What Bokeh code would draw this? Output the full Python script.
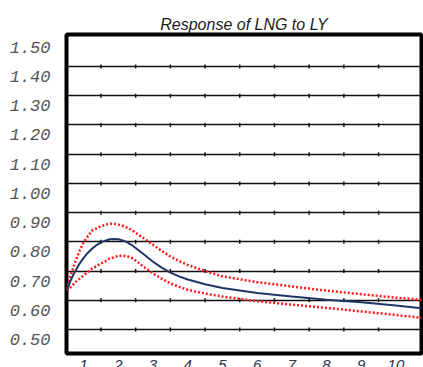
from bokeh.plotting import figure
from bokeh.models import FixedTicker, Title
from bokeh.embed import file_html
from bokeh.resources import INLINE

# ---- data ----
horizon = [0.52, 0.625, 0.75, 0.875, 1.0, 1.125, 1.25, 1.375, 1.5, 1.625, 1.75, 1.875,
           2.0, 2.125, 2.25, 2.375, 2.5, 2.75, 3.0, 3.25, 3.5, 3.75, 4.0, 4.5,
           5.0, 6.0, 7.0, 8.0, 9.0, 10.0, 10.74]
response = [0.633, 0.668, 0.698, 0.724, 0.745, 0.763, 0.777, 0.789, 0.798, 0.804, 0.809, 0.810,
            0.809, 0.805, 0.799, 0.790, 0.779, 0.756, 0.732, 0.712, 0.695, 0.682, 0.671, 0.655,
            0.642, 0.625, 0.613, 0.602, 0.593, 0.582, 0.573]
upper = [0.637, 0.685, 0.729, 0.767, 0.798, 0.820, 0.839, 0.846, 0.854, 0.858, 0.862, 0.862,
         0.859, 0.855, 0.849, 0.841, 0.831, 0.811, 0.790, 0.769, 0.750, 0.734, 0.721, 0.700,
         0.682, 0.662, 0.647, 0.633, 0.621, 0.609, 0.602]
lower = [0.633, 0.644, 0.661, 0.673, 0.685, 0.697, 0.709, 0.717, 0.726, 0.733, 0.743, 0.747,
         0.752, 0.753, 0.751, 0.746, 0.736, 0.713, 0.692, 0.674, 0.658, 0.646, 0.636, 0.623,
         0.613, 0.597, 0.585, 0.574, 0.562, 0.550, 0.540]

grid_values = [0.50, 0.60, 0.70, 0.80, 0.90, 1.00, 1.10, 1.20, 1.30, 1.40]
y_label_values = [0.50, 0.60, 0.70, 0.80, 0.90, 1.00, 1.10, 1.20, 1.30, 1.40, 1.50]
y_labels = ["0.50", "0.60", "0.70", "0.80", "0.90", "1.00", "1.10", "1.20", "1.30", "1.40", "1.50"]
periods = [1, 2, 3, 4, 5, 6, 7, 8, 9, 10]
period_bounds = [1.5, 2.5, 3.5, 4.5, 5.5, 6.5, 7.5, 8.5, 9.5]
title_text = "Response of LNG to LY"

label_shift = 0.034  # labels sit a little below their grid lines in the original

p = figure(width=431, height=383, x_range=(0.507, 10.737), y_range=(0.418, 1.5095),
           output_backend="svg", toolbar_location=None,
           min_border_left=66, min_border_right=10, min_border_top=34, min_border_bottom=30,
           background_fill_color="white", border_fill_color="white")

p.add_layout(Title(text=title_text, align="center", text_font="Liberation Sans",
                   text_font_style="italic", text_font_size="16px", text_color="#1a1a1a",
                   standoff=3, offset=0), "above")

p.outline_line_color = "black"
p.outline_line_width = 4

# grid
p.xgrid.grid_line_color = None
p.ygrid.ticker = FixedTicker(ticks=grid_values)
p.ygrid.grid_line_color = "#111111"
p.ygrid.grid_line_width = 1.5

# y axis labels (shifted)
ypos = [v - label_shift for v in y_label_values]
p.yaxis.ticker = FixedTicker(ticks=ypos)
p.yaxis.major_label_overrides = {pos: lab for pos, lab in zip(ypos, y_labels)}
p.yaxis.major_label_text_font = "Liberation Mono"
p.yaxis.major_label_text_font_style = "italic"
p.yaxis.major_label_text_font_size = "17px"
p.yaxis.major_label_text_color = "#555555"
p.yaxis.major_label_standoff = 10

# x axis labels
p.xaxis.ticker = FixedTicker(ticks=periods)
p.xaxis.major_label_text_font = "Liberation Sans"
p.xaxis.major_label_text_font_style = "italic"
p.xaxis.major_label_text_font_size = "15px"
p.xaxis.major_label_text_color = "#2a3350"
p.xaxis.major_label_standoff = 0

for ax in (p.xaxis[0], p.yaxis[0]):
    ax.axis_line_color = None
    ax.major_tick_line_color = None
    ax.minor_tick_line_color = None

# small tick marks on each grid line
tx = [b for g in grid_values for b in period_bounds]
ty = [g for g in grid_values for b in period_bounds]
p.scatter(tx, ty, marker="dash", angle=1.5708, size=4, line_color="#111111", line_width=1.5)

# bands and response
p.line(horizon, upper, line_color="#ff1a1a", line_width=2.5, line_dash="2 2")
p.line(horizon, lower, line_color="#ff1a1a", line_width=2.5, line_dash="2 2")
p.line(horizon, response, line_color="#1f3566", line_width=2)

open("out.html", "w").write(file_html(p, INLINE))
